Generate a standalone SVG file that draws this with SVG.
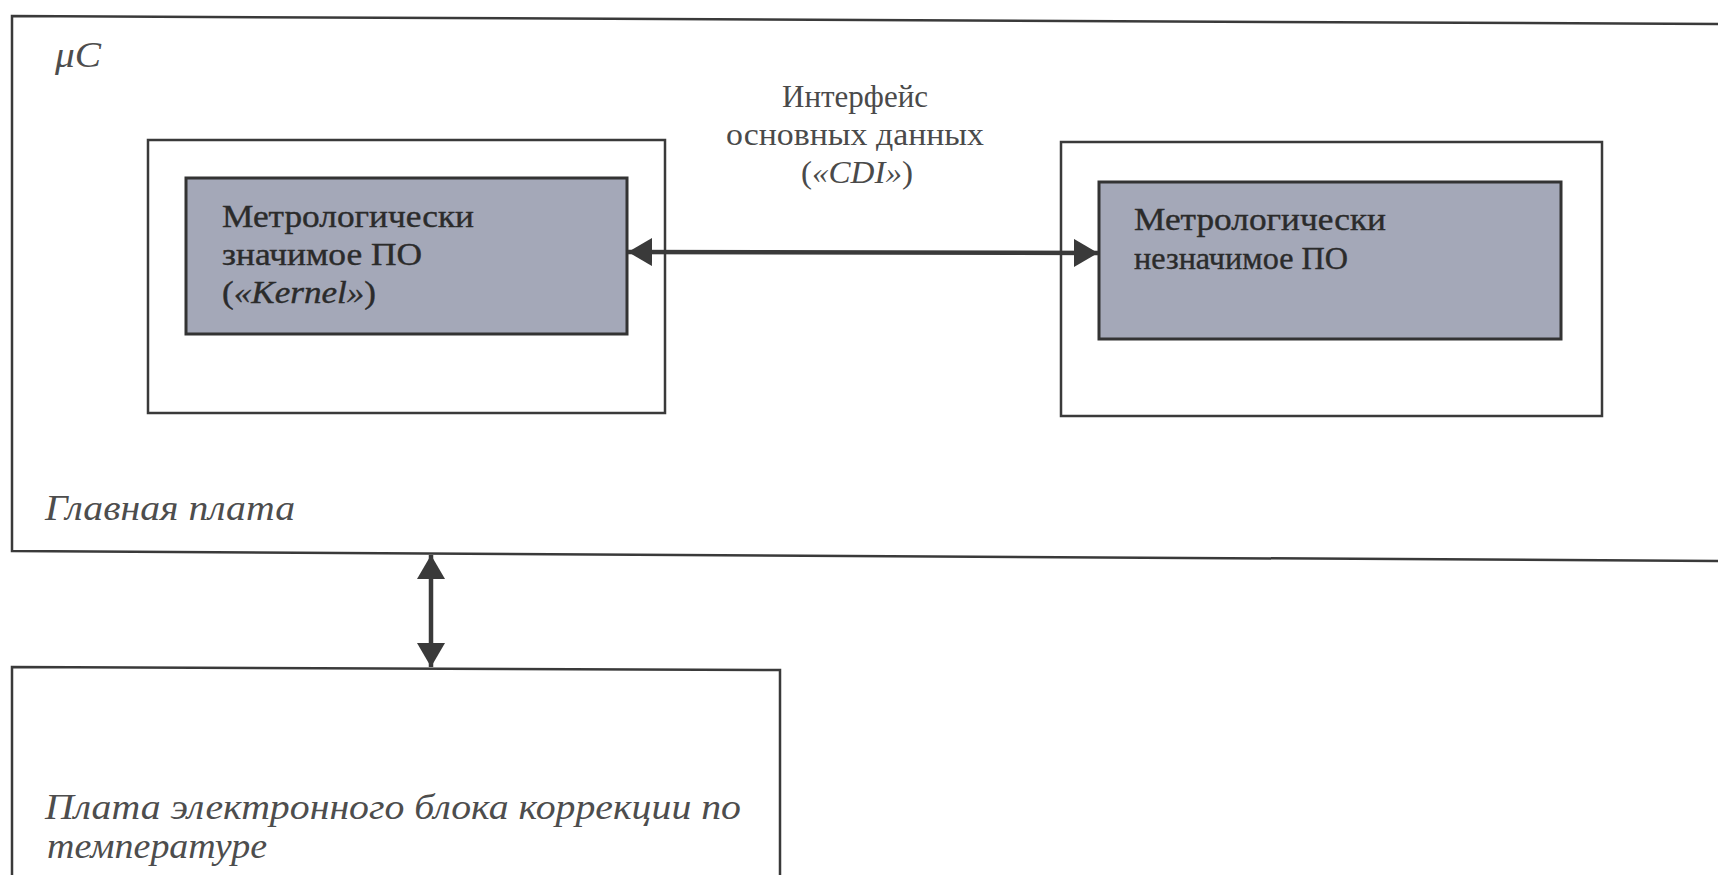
<svg xmlns="http://www.w3.org/2000/svg" width="1718" height="875" viewBox="0 0 1718 875">
<style>
  .frame{fill:none;stroke:#3a3a3a;stroke-width:2.5}
  .white{fill:#ffffff;stroke:#3a3a3a;stroke-width:2.5}
  .grey{fill:#a4a8b8;stroke:#333;stroke-width:3}
  .t{font-family:"Liberation Serif","Times New Roman",serif;fill:#2b2b2b;stroke:#2b2b2b;stroke-width:0.4;font-size:32px}
  .lbl{font-family:"Liberation Serif","Times New Roman",serif;fill:#4a4a4a;font-size:32px}
  .it{font-family:"Liberation Serif","Times New Roman",serif;font-style:italic;fill:#4d4d4d;font-size:36px}
  .conn{stroke:#3a3a3a;stroke-width:4.5;fill:none}
</style>
<defs>
  <marker id="ah" viewBox="0 0 24 28" refX="24" refY="14" markerWidth="24" markerHeight="28" orient="auto-start-reverse" markerUnits="userSpaceOnUse">
    <path d="M0,0 L24,14 L0,28 z" fill="#3a3a3a"/>
  </marker>
</defs>
<rect width="1718" height="875" fill="#fff"/>
<g id="main-board">
  <path class="frame" d="M1718,24 L12,16 L12,551 L1718,561"/>
  <text class="it" x="55" y="67" font-size="34" textLength="46" lengthAdjust="spacingAndGlyphs">μC</text>
  <text class="it" x="45" y="520" textLength="250" lengthAdjust="spacingAndGlyphs">Главная плата</text>
</g>
<g id="kernel">
  <rect class="white" x="148" y="140" width="517" height="273"/>
  <rect class="grey" x="186" y="178" width="441" height="156"/>
  <text class="t" x="222" y="227" textLength="252" lengthAdjust="spacingAndGlyphs">Метрологически</text>
  <text class="t" x="222" y="265" textLength="200" lengthAdjust="spacingAndGlyphs">значимое ПО</text>
  <text class="t" x="222" y="303" textLength="154" lengthAdjust="spacingAndGlyphs">(<tspan font-style="italic">«Kernel»</tspan>)</text>
</g>
<g id="nonsignificant">
  <rect class="white" x="1061" y="142" width="541" height="274"/>
  <rect class="grey" x="1099" y="182" width="462" height="157"/>
  <text class="t" x="1134" y="230" textLength="252" lengthAdjust="spacingAndGlyphs">Метрологически</text>
  <text class="t" x="1134" y="269" textLength="214" lengthAdjust="spacingAndGlyphs">незначимое ПО</text>
</g>
<g id="cdi-label">
  <text class="lbl" x="855" y="107" text-anchor="middle" textLength="146" lengthAdjust="spacingAndGlyphs">Интерфейс</text>
  <text class="lbl" x="855" y="145" text-anchor="middle" textLength="258" lengthAdjust="spacingAndGlyphs">основных данных</text>
  <text class="lbl" x="857" y="183" text-anchor="middle" textLength="112" lengthAdjust="spacingAndGlyphs">(<tspan font-style="italic">«CDI»</tspan>)</text>
</g>
<g id="correction-board">
  <path class="frame" d="M12,875 L12,667 L780,670 L780,875"/>
  <text class="it" x="45" y="819" textLength="696" lengthAdjust="spacingAndGlyphs">Плата электронного блока коррекции по</text>
  <text class="it" x="47" y="858" textLength="220" lengthAdjust="spacingAndGlyphs">температуре</text>
</g>
<g id="connectors">
  <line class="conn" x1="628" y1="252" x2="1098" y2="253" marker-start="url(#ah)" marker-end="url(#ah)"/>
  <line class="conn" x1="431" y1="555" x2="431" y2="667" marker-start="url(#ah)" marker-end="url(#ah)"/>
</g>
</svg>
